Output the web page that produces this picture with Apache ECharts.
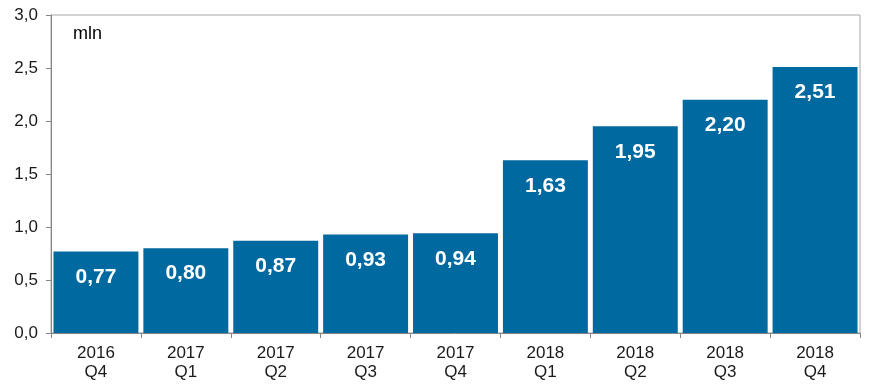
<!DOCTYPE html>
<html><head><meta charset="utf-8">
<script src="https://cdn.jsdelivr.net/npm/echarts@6/dist/echarts.min.js"></script>
<style>html,body{margin:0;padding:0;background:#fff}#c{width:888px;height:385px}</style>
</head><body><div id="c"></div>
<script>
const categories = ['2016\nQ4','2017\nQ1','2017\nQ2','2017\nQ3','2017\nQ4','2018\nQ1','2018\nQ2','2018\nQ3','2018\nQ4'];
const values = [0.77,0.80,0.87,0.93,0.94,1.63,1.95,2.20,2.51];
const yTicks = [0,0.5,1,1.5,2,2.5,3];
const unitLabel = 'mln';

const chart = echarts.init(document.getElementById('c'));
const fmt = v => v.toFixed(1).replace('.', ',');
const FF = 'Arial, "Liberation Sans", sans-serif';
chart.setOption({
  animation:false,
  grid:{left:51,right:28,top:15,bottom:52,show:true,borderColor:'#a6a6a6',borderWidth:1},
  graphic:[{type:'text',left:73,top:25,style:{text:unitLabel,font:'18px Arial, "Liberation Sans", sans-serif',fill:'#000'}}],
  xAxis:{type:'category',data:categories,boundaryGap:true,
    axisLine:{lineStyle:{color:'#868686'}},
    axisTick:{show:true,alignWithLabel:false,length:5,lineStyle:{color:'#868686'}},
    axisLabel:{color:'#1a1a1a',fontSize:17,fontFamily:FF,lineHeight:19,margin:11,interval:0}},
  yAxis:{type:'value',min:0,max:3,interval:0.5,
    axisLine:{show:true,lineStyle:{color:'#868686'}},
    axisTick:{show:true,length:5,lineStyle:{color:'#868686'}},
    splitLine:{show:false},
    axisLabel:{color:'#1a1a1a',fontSize:17,fontFamily:FF,margin:13,formatter:v=>fmt(v)}},
  series:[{type:'bar',data:values,barCategoryGap:'5.5%',
    itemStyle:{color:'#00699f'},
    label:{show:true,position:'insideTop',distance:15,color:'#fff',fontWeight:'bold',fontSize:21,
      fontFamily:FF,formatter:p=>p.value.toFixed(2).replace('.',',')}}]
});
</script></body></html>
